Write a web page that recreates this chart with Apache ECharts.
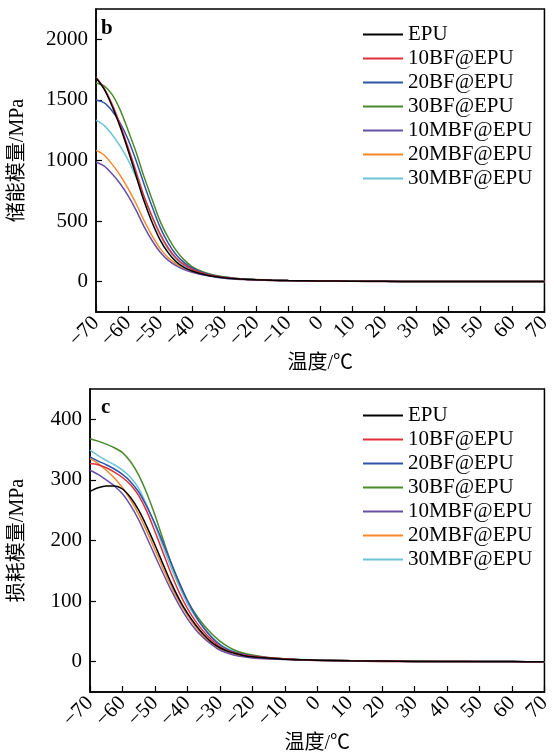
<!DOCTYPE html>
<html>
<head>
<meta charset="utf-8">
<script src="https://cdn.jsdelivr.net/npm/echarts@6/dist/echarts.min.js"></script>
<style>html,body{margin:0;padding:0;background:#fff}#c{width:554px;height:756px}</style>
</head>
<body>
<div id="c"></div>
<script>
const temps = [-70,-67.5,-65,-62.5,-60,-57.5,-55,-52.5,-50,-47.5,-45,-42.5,-40,-37.5,-35,-32.5,-30,-27.5,-25,-22.5,-20,-15,-10,0,10,20,30,40,50,60,70];
const seriesNames = ['EPU','10BF@EPU','20BF@EPU','30BF@EPU','10MBF@EPU','20MBF@EPU','30MBF@EPU'];
const colors = ['#000000','#e0303c','#2f54a8','#4a8a2c','#6650a8','#f7882a','#6cc4d6'];
const storageTicks = [0,500,1000,1500,2000];
const lossTicks = [0,100,200,300,400];

// storage modulus (MPa)
const storageEPU   = [1680,1590,1450,1280,1085,875,665,490,345,240,165,118,88,67,52,40,32,26,22,19,16,12,9,6,4,3,2,2,1,1,1];
const storage10BF  = [1688,1598,1465,1300,1110,910,705,540,395,280,196,140,102,77,58,45,35,28,23,19,16,12,9,6,4,3,2,2,1,1,1];
const storage20BF  = [1500,1477,1410,1310,1175,1000,805,620,450,320,223,158,113,83,62,47,37,29,24,20,16,12,9,6,4,3,2,2,1,1,1];
const storage30BF  = [1640,1615,1545,1420,1250,1070,865,680,500,365,258,180,125,90,68,52,40,31,25,21,18,13,10,7,5,3,2,2,1,1,1];
const storage10MBF = [985,955,890,810,710,590,455,340,245,178,132,100,78,61,48,37,29,23,19,16,13,10,8,5,3,2,2,1,1,1,1];
const storage20MBF = [1083,1045,970,880,770,645,505,380,275,200,148,110,85,66,52,40,31,25,20,17,14,10,8,5,3,2,2,1,1,1,1];
const storage30MBF = [1333,1290,1215,1120,1005,865,700,535,385,270,185,130,97,72,55,43,34,27,23,19,16,12,9,6,4,3,2,2,1,1,1];

// loss modulus (MPa)
const lossEPU   = [281,287,290,290,285,271,250,223,193,161,130,103,80,61,45,32,23,17,13,10,8,6,4,2.5,1.5,1,0.5,0.5,0.3,0.2,0];
const loss10BF  = [327,325,320,313,304,292,274,248,215,180,145,114,88,67,50,36,25,18,14,11,9,6.5,4.5,2.5,1.5,1,0.5,0.5,0.3,0.2,0];
const loss20BF  = [338,331,325,318,309,297,280,256,228,196,163,131,101,76,56,40,28,20,15,12,9,6.5,4.5,2.5,1.5,1,0.5,0.5,0.3,0.2,0];
const loss30BF  = [368,364,359,353,345,330,308,278,242,202,163,129,101,79,61,46,34,25,18,14,11,7,5,3,2,1.5,1,0.5,0.3,0.2,0];
const loss10MBF = [316,309,300,290,277,258,234,205,175,146,118,93,71,53,39,28,19,14,10,8,6,4.5,3.5,2,1,0.5,0.3,0.2,0.1,0,0];
const loss20MBF = [335,327,316,303,287,267,243,215,185,154,125,99,77,58,42,30,21,15,11,9,7,5,4,2,1,0.5,0.3,0.2,0.1,0,0];
const loss30MBF = [349,340,332,325,316,304,286,258,225,190,155,124,96,74,56,41,29,21,16,12,9,6.5,4.5,2.5,1.5,1,0.5,0.5,0.3,0.2,0];

const storageData = [storageEPU,storage10BF,storage20BF,storage30BF,storage10MBF,storage20MBF,storage30MBF];
const lossData = [lossEPU,loss10BF,loss20BF,loss30BF,loss10MBF,loss20MBF,loss30MBF];

const FONT = "'Liberation Serif','Noto Sans CJK SC',serif";
const fmtX = v => (v < 0 ? '\u2212' + Math.abs(v) : String(v));
const fmtY = v => String(v);

function xAxisCfg(gridIndex, gap){
  return {
    type:'value', gridIndex, min:-70, max:70, interval:10,
    name:'温度/℃', nameLocation:'middle', nameGap:gap,
    nameTextStyle:{fontFamily:FONT, fontSize:20, color:'#000'},
    axisLine:{show:true, onZero:false, lineStyle:{color:'#000', width:1.5}},
    axisTick:{show:true, inside:true, length:6, lineStyle:{color:'#000', width:1.2}},
    axisLabel:{rotate:45, margin:8, fontFamily:FONT, fontSize:21, color:'#000', formatter:fmtX},
    splitLine:{show:false}
  };
}
function yAxisCfg(gridIndex, min, max, ticks, name, gap){
  return {
    type:'value', gridIndex, min, max,
    name, nameLocation:'middle', nameGap:gap,
    nameTextStyle:{fontFamily:FONT, fontSize:20, color:'#000'},
    axisLine:{show:true, onZero:false, lineStyle:{color:'#000', width:1.5}},
    axisTick:{show:true, inside:true, length:6, lineStyle:{color:'#000', width:1.2}, customValues:ticks},
    axisLabel:{margin:8, fontFamily:FONT, fontSize:21, color:'#000', customValues:ticks, formatter:fmtY},
    splitLine:{show:false}
  };
}
function legendCfg(top){
  return {
    data:seriesNames.map(n=>({name:n, icon:'rect'})), left:358, top, orient:'vertical',
    itemWidth:40, itemHeight:2, itemGap:3, itemTextGap:9,
    textStyle:{fontFamily:FONT, fontSize:21, color:'#000'}
  };
}

const series = [];
seriesNames.forEach((n,i)=>{
  series.push({name:n, type:'line', xAxisIndex:0, yAxisIndex:0, smooth:0.3, symbol:'none',
    lineStyle:{color:colors[i], width:1.5}, itemStyle:{color:colors[i]},
    data: temps.map((t,k)=>[t, storageData[i][k]]), z: 10 - i});
});
seriesNames.forEach((n,i)=>{
  series.push({name:n, type:'line', xAxisIndex:1, yAxisIndex:1, smooth:0.3, symbol:'none',
    lineStyle:{color:colors[i], width:1.5}, itemStyle:{color:colors[i]},
    data: temps.map((t,k)=>[t, lossData[i][k]]), z: 10 - i});
});

const chart = echarts.init(document.getElementById('c'), null, {renderer:'canvas'});
chart.setOption({
  animation:false,
  backgroundColor:'#fff',
  grid:[
    {left:90, top:9, width:455, height:303, show:true, borderColor:'#000', borderWidth:1.5},
    {left:90, top:389, width:455, height:303, show:true, borderColor:'#000', borderWidth:1.5}
  ],
  xAxis:[xAxisCfg(0,32), xAxisCfg(1,38)],
  yAxis:[
    yAxisCfg(0,-250,2250,storageTicks,'储能模量/MPa',68),
    yAxisCfg(1,-50,450,lossTicks,'损耗模量/MPa',62)
  ],
  legend:[legendCfg(19), legendCfg(400)],
  graphic:[
    {type:'text', left:101, top:18, style:{text:'b', font:"bold 21px 'Liberation Serif'", fill:'#000'}},
    {type:'text', left:101, top:397, style:{text:'c', font:"bold 21px 'Liberation Serif'", fill:'#000'}}
  ],
  series
});
</script>
</body>
</html>
